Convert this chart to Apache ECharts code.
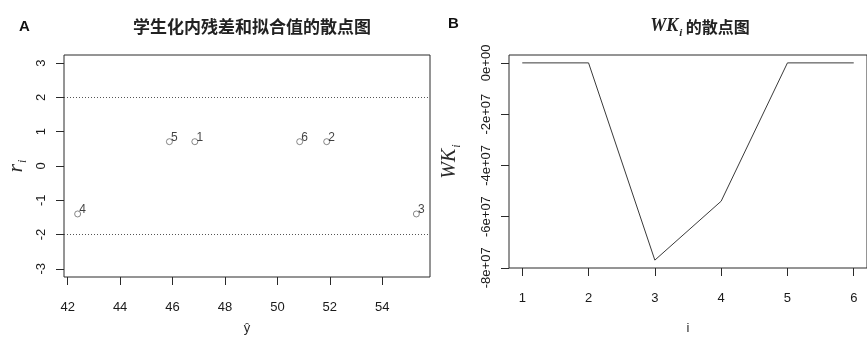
<!DOCTYPE html>
<html>
<head>
<meta charset="utf-8">
<script src="https://cdn.jsdelivr.net/npm/echarts@6/dist/echarts.min.js"></script>
<style>
  html, body { margin: 0; padding: 0; background: #fff; }
  #chart { width: 867px; height: 340px; }
</style>
</head>
<body>
<div id="chart"></div>
<script>
// panel A: studentized residuals vs fitted values (obs 1..6)
const pointLabels = ['1', '2', '3', '4', '5', '6']
const fittedValues = [46.85, 51.88, 55.3, 42.38, 45.88, 50.85]
const studentResiduals = [0.71, 0.71, -1.4, -1.4, 0.71, 0.71]
const cutoffs = [2, -2]
const fittedTicks = [42, 44, 46, 48, 50, 52, 54]
const residualTicks = [-3, -2, -1, 0, 1, 2, 3]

// panel B: WK_i
const obsIndex = [1, 2, 3, 4, 5, 6]
const wkValues = [0, 0, -7.7e7, -5.4e7, 0, 0]
const wkTicks = [0, -2e7, -4e7, -6e7, -8e7]
const wkTickLabels = ['0e+00', '-2e+07', '-4e+07', '-6e+07', '-8e+07']

const font = 'Liberation Sans, Arial, sans-serif'
const serif = 'Liberation Serif, DejaVu Serif, serif'
const ink = '#2a2a2a'

const baseAxis = {
  axisLine: { show: false, onZero: false },
  splitLine: { show: false },
  axisTick: { show: true, inside: false, length: 8, lineStyle: { color: ink, width: 1 } },
  axisLabel: { color: '#1a1a1a', fontSize: 13, fontFamily: font }
}

function axis(extra, ticks, fmt) {
  return Object.assign({}, baseAxis, extra, {
    axisTick: Object.assign({}, baseAxis.axisTick, { customValues: ticks }),
    axisLabel: Object.assign({}, baseAxis.axisLabel, extra.axisLabel || {}, { customValues: ticks, formatter: fmt })
  })
}

const myChart = echarts.init(document.getElementById('chart'))

const option = {
  backgroundColor: '#fff',
  animation: false,
  title: [
    { text: 'A', left: 14, top: 14, textStyle: { fontSize: 15, fontWeight: 'bold', fontFamily: font, color: '#111' } },
    { text: 'B', left: 443, top: 11, textStyle: { fontSize: 15, fontWeight: 'bold', fontFamily: font, color: '#111' } },
    {
      text: '学生化内残差和拟合值的散点图',
      left: 247, top: 13, textAlign: 'center',
      textStyle: { fontSize: 17, fontWeight: 'bold', fontFamily: 'Noto Sans CJK SC', color: '#222' }
    },
    {
      text: '{it|WK}{sub|i}{cn| 的散点图}',
      left: 695, top: 9, textAlign: 'center',
      textStyle: {
        rich: {
          it: { fontFamily: serif, fontStyle: 'italic', fontSize: 18, color: '#222' },
          sub: { fontFamily: serif, fontStyle: 'italic', fontSize: 11, color: '#222', padding: [14, 0, 0, 1] },
          cn: { fontFamily: 'Noto Sans CJK SC', fontWeight: 'bold', fontSize: 16, color: '#222' }
        }
      }
    }
  ],
  grid: [
    { left: 64, top: 55, width: 366, height: 227, show: true, borderColor: ink, borderWidth: 1, backgroundColor: 'transparent' },
    { left: 509, top: 55, width: 367, height: 227, show: true, borderColor: ink, borderWidth: 1, backgroundColor: 'transparent' }
  ],
  xAxis: [
    axis({
      type: 'value', gridIndex: 0, position: 'bottom', min: 41.86, max: 55.82,
      name: 'ŷ', nameLocation: 'middle', nameGap: 45,
      nameTextStyle: { fontFamily: font, fontSize: 13, color: ink },
      axisLabel: { margin: 24 }
    }, fittedTicks, v => String(v)),
    axis({
      type: 'value', gridIndex: 1, position: 'bottom', min: 0.8, max: 6.2,
      name: 'i', nameLocation: 'middle', nameGap: 54,
      nameTextStyle: { fontFamily: font, fontSize: 13, color: ink },
      axisLabel: { margin: 24 }
    }, obsIndex, v => String(v))
  ],
  yAxis: [
    axis({
      type: 'value', gridIndex: 0, position: 'left', min: -3.24, max: 3.24,
      name: '{r|r}{s|i}', nameLocation: 'middle', nameGap: 35, nameRotate: 90,
      nameTextStyle: {
        rich: {
          r: { fontFamily: serif, fontStyle: 'italic', fontSize: 22, color: ink },
          s: { fontFamily: serif, fontStyle: 'italic', fontSize: 12, color: ink, padding: [14, 0, 0, 1] }
        }
      },
      axisLabel: { rotate: 90, margin: 16 }
    }, residualTicks, v => String(v)),
    axis({
      type: 'value', gridIndex: 1, position: 'left', min: -8.008e7, max: 0.308e7,
      name: '{w|WK}{s|i}', nameLocation: 'middle', nameGap: 46, nameRotate: 90,
      nameTextStyle: {
        rich: {
          w: { fontFamily: serif, fontStyle: 'italic', fontSize: 20, color: ink },
          s: { fontFamily: serif, fontStyle: 'italic', fontSize: 12, color: ink, padding: [14, 0, 0, 1] }
        }
      },
      axisLabel: { rotate: 90, margin: 16 }
    }, wkTicks, v => wkTickLabels[wkTicks.indexOf(v)] || '')
  ],
  series: [
    {
      type: 'scatter',
      xAxisIndex: 0, yAxisIndex: 0,
      data: fittedValues.map((x, i) => [x, studentResiduals[i], pointLabels[i]]),
      symbol: 'circle',
      symbolSize: 6,
      itemStyle: { color: 'rgba(255,255,255,0)', borderColor: '#444', borderWidth: 0.8 },
      label: {
        show: true, position: 'inside', offset: [5, -4],
        formatter: p => p.data[2],
        fontFamily: font, fontSize: 12, color: '#111'
      },
      markLine: {
        silent: true, symbol: 'none',
        label: { show: false },
        lineStyle: { color: '#555', type: [1, 2], width: 1 },
        data: cutoffs.map(v => ({ yAxis: v }))
      }
    },
    {
      type: 'line',
      xAxisIndex: 1, yAxisIndex: 1,
      data: obsIndex.map((x, i) => [x, wkValues[i]]),
      showSymbol: false,
      lineStyle: { color: '#3a3a3a', width: 1 }
    }
  ]
}

myChart.setOption(option)
</script>
</body>
</html>
